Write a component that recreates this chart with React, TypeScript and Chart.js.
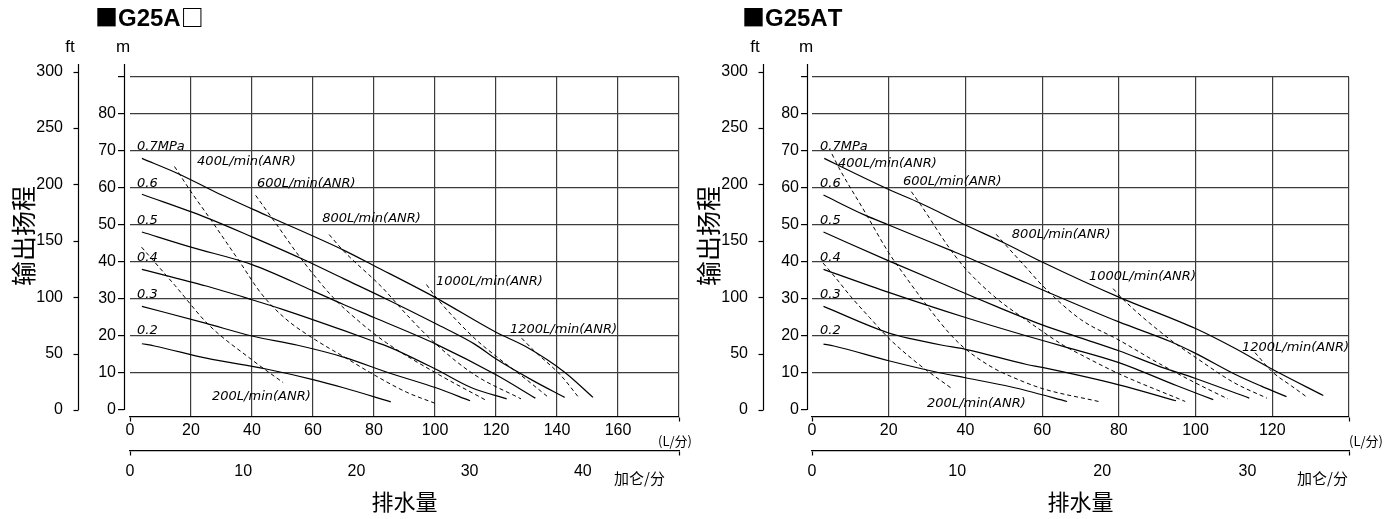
import React, { useEffect, useRef } from 'react';
import { Chart, registerables } from 'chart.js';

Chart.register(...registerables);

type Pt = [number, number];

const FT_PER_M = 3.28084;
const M_MIN = -1.9;
const M_MAX = 90;
const AXIS_TOP_M = 93.5;

const SANS = "'Liberation Sans', Arial, sans-serif";
const NARROW = "'Liberation Sans Narrow', 'Liberation Sans', Arial, sans-serif";
const LABEL_FONT = "'DejaVu Sans', sans-serif";
const CJK = "'Noto Sans CJK SC', sans-serif";

const M_TICKS = [0, 10, 20, 30, 40, 50, 60, 70, 80, 90];
const FT_TICKS = [0, 50, 100, 150, 200, 250, 300];

const PRESSURE_NAMES = ['0.7MPa', '0.6', '0.5', '0.4', '0.3', '0.2'];
const AIR_NAMES = ['200L/min(ANR)', '400L/min(ANR)', '600L/min(ANR)', '800L/min(ANR)', '1000L/min(ANR)', '1200L/min(ANR)'];
const Y_TITLE = '输出扬程';
const X_TITLE = '排水量';
const FLOW_UNIT = '(L/分)';
const GAL_UNIT = '加仑/分';

// ===== G25A□ =====
const A_TITLE = '■G25A□';
const A_FLOW_TICKS = [0, 20, 40, 60, 80, 100, 120, 140, 160, 180];
const A_GAL_TICKS = [0, 10, 20, 30, 40];

const A_P07: Pt[] = [[3.9, 68], [16, 63.8], [27.8, 59], [45, 52.5], [70, 43.2], [80, 39], [100.3, 30.3], [120, 21], [129.6, 17.2], [142.5, 10.2], [151.8, 3.4]];
const A_P06: Pt[] = [[3.9, 58.3], [25, 52], [40, 46.8], [56, 41], [70, 35.5], [84, 30], [100.3, 23.3], [113, 17.8], [120.2, 13.7], [132, 8], [142.5, 3.4]];
const A_P05: Pt[] = [[3.9, 48.1], [20, 44], [40, 39.3], [60, 32.2], [70, 28.5], [80, 25], [100.3, 17.8], [120, 9.5], [132.9, 3.2]];
const A_P04: Pt[] = [[3.9, 38], [25, 33.5], [40, 29.8], [50, 27.2], [70, 21.5], [80, 18.5], [85, 17], [100.3, 11], [112, 6], [123.5, 3]];
const A_P03: Pt[] = [[3.9, 28], [25, 23.4], [40, 20], [55, 17.5], [70, 14.3], [85, 10], [100.3, 6], [111.5, 2.5]];
const A_P02: Pt[] = [[3.9, 17.9], [8, 17.3], [25, 14], [45, 11], [60, 8.2], [70, 6], [85.5, 2.2]];

const A_A200: Pt[] = [[3.8, 44], [14.8, 33.6], [25.7, 23.1], [39.9, 13.6], [50.2, 7.4]];
const A_A400: Pt[] = [[14.6, 65.8], [20, 59], [26, 52], [36, 40], [43, 31.5], [50.8, 24.8], [60.7, 19], [70.5, 14.2], [80, 9.5], [90.7, 4.8], [100.7, 1.6]];
const A_A600: Pt[] = [[41.2, 58], [48, 50.2], [56, 41], [66.5, 30.5], [75, 24], [84, 18.2], [100.3, 10], [117, 2.5]];
const A_A800: Pt[] = [[65.3, 47.4], [70, 43], [82.8, 33], [91, 25.5], [100.3, 17.8], [113, 9.5], [128.2, 3]];
const A_A1000: Pt[] = [[97.2, 33.9], [100.3, 30.5], [112.8, 19.5], [120.2, 14.4], [130, 8.2], [137.5, 3.2]];
const A_A1200: Pt[] = [[128.4, 19.4], [132.5, 16], [141.3, 9.3], [147.1, 3.4]];

const A_PRESSURE_LABEL_AT: Pt[] = [[2.3, 70.4], [2.3, 60.4], [2.3, 50.4], [2.3, 40.4], [2.3, 30.4], [2.3, 20.4]];
const A_AIR_LABEL_AT: Pt[] = [[26.9, 2.7], [22, 66.2], [41.6, 60.3], [63, 50.8], [100.3, 33.8], [124.6, 20.8]];

// ===== G25AT =====
const T_TITLE = '■G25AT';
const T_FLOW_TICKS = [0, 20, 40, 60, 80, 100, 120, 140];
const T_GAL_TICKS = [0, 10, 20, 30];

const T_P07: Pt[] = [[3.2, 68], [6.7, 66.2], [20, 59.6], [28, 56], [40, 50], [50, 45.2], [60, 40], [80, 30.5], [100, 22], [110, 16.8], [120, 11], [133.3, 3.9]];
const T_P06: Pt[] = [[3, 58.1], [13.5, 52.8], [20, 50], [36, 43.2], [40, 41.5], [56, 34.3], [60, 32.5], [80, 23.8], [93.4, 18.5], [100, 15.3], [110, 9.8], [117, 6.5], [123.7, 3.6]];
const T_P05: Pt[] = [[3, 48.1], [20, 40.3], [40, 31.5], [48, 28], [60, 23], [70, 19.5], [80, 16], [90, 12], [100, 8.5], [114, 3.2]];
const T_P04: Pt[] = [[3, 38], [20, 31.8], [40, 25], [56, 20], [65.5, 17.2], [80, 12.8], [95, 6.6], [104.6, 2.8]];
const T_P03: Pt[] = [[3, 28], [20, 20.8], [26, 19.2], [34, 17.5], [40, 16.4], [56, 12.3], [60, 11.5], [80, 6.8], [94.9, 2.5]];
const T_P02: Pt[] = [[3, 17.8], [5.7, 17.3], [20, 13.3], [33.5, 10], [40, 8.7], [52, 6.2], [56, 5.2], [66.5, 2.3]];

const T_A200: Pt[] = [[2.9, 39.7], [6.5, 35.3], [10, 30.8], [15, 25], [20, 19.4], [27.4, 12.7], [36.3, 5.9]];
const T_A400: Pt[] = [[5.2, 69.2], [7, 65.5], [13.8, 53.5], [20, 42.5], [24.4, 36], [30.5, 27.5], [36, 20.5], [40, 16.5], [47, 11.5], [52, 9], [60, 5.8], [74.7, 2.3]];
const T_A600: Pt[] = [[25.9, 59], [28.3, 55.5], [36, 43.5], [40, 38.2], [48.3, 30], [56, 24.2], [65.5, 17.5], [70, 15], [80, 9.8], [97.3, 2.3]];
const T_A800: Pt[] = [[48, 47.5], [51, 44], [56, 38.3], [60, 33.7], [70, 24.5], [80, 18.9], [90.6, 12.5], [100, 7.3], [108.4, 3]];
const T_A1000: Pt[] = [[78.5, 32.8], [81, 30], [93.4, 19], [100, 14.2], [110, 7.4], [118.6, 3.2]];
const T_A1200: Pt[] = [[115.5, 15.5], [120, 10.3], [125, 6.5], [129, 3.5]];

const T_PRESSURE_LABEL_AT: Pt[] = [[2.1, 70.4], [2.1, 60.4], [2.1, 50.4], [2.1, 40.4], [2.1, 30.4], [2.1, 20.4]];
const T_AIR_LABEL_AT: Pt[] = [[30, 0.8], [6.8, 65.7], [23.7, 60.8], [52.1, 46.5], [72.2, 35.1], [112.1, 15.9]];

interface PanelDef {
  title: string;
  flowMax: number;
  galMax: number;
  flowTicks: number[];
  galTicks: number[];
  pressure: Pt[][];
  air: Pt[][];
  pressureLabelAt: Pt[];
  airLabelAt: Pt[];
  ftW: number;
  mW: number;
  gapW: number;
  padRight: number;
  titleX: number;
  yTitleX: number;
  lUnitRight: number;
  galUnitRight: number;
}

const PANEL_A: PanelDef = {
  title: A_TITLE,
  flowMax: 180,
  galMax: 48.5,
  flowTicks: A_FLOW_TICKS,
  galTicks: A_GAL_TICKS,
  pressure: [A_P07, A_P06, A_P05, A_P04, A_P03, A_P02],
  air: [A_A200, A_A400, A_A600, A_A800, A_A1000, A_A1200],
  pressureLabelAt: A_PRESSURE_LABEL_AT,
  airLabelAt: A_AIR_LABEL_AT,
  ftW: 78,
  mW: 46,
  gapW: 6,
  padRight: 14,
  titleX: 95,
  yTitleX: 23,
  lUnitRight: 692,
  galUnitRight: 665,
};

const PANEL_T: PanelDef = {
  title: T_TITLE,
  flowMax: 140,
  galMax: 37.0,
  flowTicks: T_FLOW_TICKS,
  galTicks: T_GAL_TICKS,
  pressure: [T_P07, T_P06, T_P05, T_P04, T_P03, T_P02],
  air: [T_A200, T_A400, T_A600, T_A800, T_A1000, T_A1200],
  pressureLabelAt: T_PRESSURE_LABEL_AT,
  airLabelAt: T_AIR_LABEL_AT,
  ftW: 70,
  mW: 44,
  gapW: 5,
  padRight: 37,
  titleX: 49,
  yTitleX: 15,
  lUnitRight: 690,
  galUnitRight: 655,
};

function makeTextPlugin(p: PanelDef) {
  return {
    id: 'panelText',
    afterDraw(chart: any) {
      const ctx: CanvasRenderingContext2D = chart.ctx;
      const xs = chart.scales.x;
      const gs = chart.scales.gal;
      const ms = chart.scales.m;
      const fs = chart.scales.ft;
      const area = chart.chartArea;
      ctx.save();
      ctx.strokeStyle = '#000';
      ctx.lineWidth = 1.2;
      // ft axis line + ticks
      const fx = Math.round(fs.right) + 0.5;
      ctx.beginPath();
      ctx.moveTo(fx, fs.getPixelForValue(AXIS_TOP_M * FT_PER_M));
      ctx.lineTo(fx, fs.getPixelForValue(0));
      ctx.stroke();
      for (const t of fs.ticks) {
        const y = Math.round(fs.getPixelForValue(t.value)) + 0.5;
        ctx.beginPath();
        ctx.moveTo(fx - 5, y);
        ctx.lineTo(fx, y);
        ctx.stroke();
      }
      // m axis line
      const mx = Math.round(ms.right) + 0.5;
      ctx.beginPath();
      ctx.moveTo(mx, ms.getPixelForValue(AXIS_TOP_M));
      ctx.lineTo(mx, ms.getPixelForValue(0));
      ctx.stroke();
      // end ticks on the two horizontal axes
      for (const s of [xs, gs]) {
        const y0 = Math.round(s.top) + 0.5;
        for (const px of [s.left, s.right]) {
          const xx = Math.round(px) + 0.5;
          ctx.beginPath();
          ctx.moveTo(xx, y0);
          ctx.lineTo(xx, y0 + 4);
          ctx.stroke();
        }
      }

      ctx.fillStyle = '#000';
      ctx.textBaseline = 'middle';
      ctx.textAlign = 'left';
      // panel title, box glyphs from the CJK font
      let cx = p.titleX;
      for (const ch of Array.from(p.title)) {
        const isBox = ch === '■' || ch === '□';
        ctx.font = isBox ? `bold 23px ${CJK}` : `bold 24px ${SANS}`;
        ctx.fillText(ch, cx, isBox ? 17 : 19);
        cx += ctx.measureText(ch).width + (isBox ? 0 : 0);
      }

      ctx.font = `17px ${SANS}`;
      ctx.textAlign = 'center';
      ctx.fillText('ft', fs.right - 8, 47);
      ctx.fillText('m', ms.right - 1, 47);

      // vertical axis title
      ctx.save();
      ctx.translate(p.yTitleX, (area.top + area.bottom) / 2 - 11);
      ctx.rotate(-Math.PI / 2);
      ctx.font = `25px ${CJK}`;
      ctx.textAlign = 'center';
      ctx.textBaseline = 'middle';
      ctx.fillText(Y_TITLE, 0, 0);
      ctx.restore();

      ctx.textAlign = 'right';
      ctx.font = `13px ${CJK}`;
      ctx.fillText(FLOW_UNIT, p.lUnitRight, 441);
      ctx.font = `15px ${CJK}`;
      ctx.fillText(GAL_UNIT, p.galUnitRight, 478);

      ctx.textAlign = 'left';
      ctx.textBaseline = 'alphabetic';
      ctx.font = `italic 13px ${LABEL_FONT}`;
      p.pressureLabelAt.forEach(([q, h], i) => {
        ctx.fillText(PRESSURE_NAMES[i], xs.getPixelForValue(q), ms.getPixelForValue(h));
      });
      p.airLabelAt.forEach(([q, h], i) => {
        ctx.fillText(AIR_NAMES[i], xs.getPixelForValue(q), ms.getPixelForValue(h));
      });
      ctx.restore();
    },
  };
}

function toXY(pts: Pt[]) {
  return pts.map(([x, y]) => ({ x, y }));
}

function makeConfig(p: PanelDef): any {
  const gridColor = '#3c3c3c';
  const datasets = [
    ...p.pressure.map((pts, i) => ({
      label: PRESSURE_NAMES[i],
      data: toXY(pts),
      showLine: true,
      borderColor: '#000',
      borderWidth: 1.2,
      pointRadius: 0,
      cubicInterpolationMode: 'monotone',
      xAxisID: 'x',
      yAxisID: 'm',
    })),
    ...p.air.map((pts, i) => ({
      label: AIR_NAMES[i],
      data: toXY(pts),
      showLine: true,
      borderColor: '#000',
      borderWidth: 1,
      borderDash: [4, 3],
      pointRadius: 0,
      cubicInterpolationMode: 'monotone',
      xAxisID: 'x',
      yAxisID: 'm',
    })),
  ];
  return {
    type: 'scatter',
    data: { datasets },
    options: {
      animation: false,
      responsive: false,
      maintainAspectRatio: false,
      layout: { padding: { top: 77, right: p.padRight, bottom: 0, left: 0 } },
      plugins: { legend: { display: false }, tooltip: { enabled: false }, title: { display: false } },
      scales: {
        x: {
          type: 'linear',
          position: 'bottom',
          weight: 0,
          min: 0,
          max: p.flowMax,
          afterBuildTicks: (ax: any) => {
            ax.ticks = p.flowTicks.map((v) => ({ value: v }));
          },
          ticks: {
            autoSkip: false,
            maxRotation: 0,
            padding: 4,
            color: '#000',
            font: { family: NARROW, size: 16 },
            callback: (v: number) => (v === p.flowMax ? '' : String(v)),
          },
          grid: {
            color: (c: any) => (c.tick && c.tick.value === 0 ? 'rgba(0,0,0,0)' : gridColor),
            lineWidth: 1.2,
            drawTicks: false,
          },
          border: { display: true, color: '#000', width: 1.2 },
          afterFit: (s: any) => {
            s.height = 34;
          },
        },
        gal: {
          type: 'linear',
          position: 'bottom',
          weight: 1,
          min: 0,
          max: p.galMax,
          afterBuildTicks: (ax: any) => {
            ax.ticks = p.galTicks.map((v) => ({ value: v }));
          },
          ticks: {
            autoSkip: false,
            maxRotation: 0,
            padding: 3,
            color: '#000',
            font: { family: NARROW, size: 16 },
          },
          grid: { display: false },
          border: { display: true, color: '#000', width: 1.2 },
          title: {
            display: true,
            text: X_TITLE,
            color: '#000',
            font: { family: CJK, size: 22 },
            padding: { top: 0, bottom: 4 },
          },
          afterFit: (s: any) => {
            s.height = 68;
          },
        },
        gap: {
          type: 'linear',
          position: 'left',
          weight: 0,
          min: 0,
          max: 1,
          ticks: { display: false },
          grid: { display: false },
          border: { display: false },
          afterFit: (s: any) => {
            s.width = p.gapW;
          },
        },
        m: {
          type: 'linear',
          position: 'left',
          weight: 1,
          min: M_MIN,
          max: M_MAX,
          afterBuildTicks: (ax: any) => {
            ax.ticks = M_TICKS.map((v) => ({ value: v }));
          },
          ticks: {
            autoSkip: false,
            padding: 2,
            color: '#000',
            font: { family: SANS, size: 16 },
            callback: (v: number) => (v === 90 ? '' : String(v)),
          },
          grid: {
            color: (c: any) => (c.tick && c.tick.value === 0 ? 'rgba(0,0,0,0)' : gridColor),
            tickColor: '#000',
            tickLength: 6,
            lineWidth: 1.2,
            tickWidth: 1.2,
          },
          border: { display: false },
          afterFit: (s: any) => {
            s.width = p.mW;
          },
        },
        ft: {
          type: 'linear',
          position: 'left',
          weight: 2,
          min: M_MIN * FT_PER_M,
          max: M_MAX * FT_PER_M,
          afterBuildTicks: (ax: any) => {
            ax.ticks = FT_TICKS.map((v) => ({ value: v }));
          },
          ticks: {
            autoSkip: false,
            padding: 7,
            color: '#000',
            font: { family: SANS, size: 16 },
          },
          grid: { display: false },
          border: { display: false },
          afterFit: (s: any) => {
            s.width = p.ftW;
          },
        },
      },
    },
    plugins: [makeTextPlugin(p)],
  };
}

function PanelChart({ def, left }: { def: PanelDef; left: number }) {
  const ref = useRef<HTMLCanvasElement>(null);
  useEffect(() => {
    if (!ref.current) return;
    const chart = new Chart(ref.current, makeConfig(def));
    return () => chart.destroy();
  }, [def]);
  return (
    <canvas
      ref={ref}
      width={693}
      height={519}
      style={{ position: 'absolute', left, top: 0, width: 693, height: 519 }}
    />
  );
}

export default function App() {
  return (
    <div style={{ position: 'absolute', left: 0, top: 0, width: 1386, height: 519, background: '#fff', overflow: 'hidden' }}>
      <PanelChart def={PANEL_A} left={0} />
      <PanelChart def={PANEL_T} left={693} />
    </div>
  );
}
